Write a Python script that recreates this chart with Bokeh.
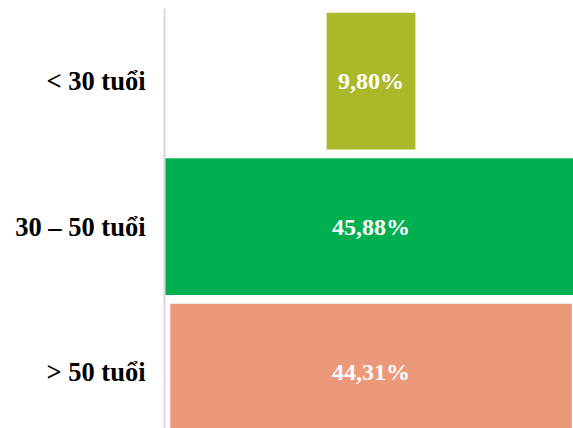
from bokeh.plotting import figure
from bokeh.models import Range1d, FixedTicker, ColumnDataSource
from bokeh.core.properties import value
from bokeh.embed import file_html
from bokeh.resources import INLINE

categories = ["< 30 tuổi", "30 – 50 tuổi", "> 50 tuổi"]
values = [9.80, 45.88, 44.31]
value_labels = ["9,80%", "45,88%", "44,31%"]
colors = ["#A9B92A", "#00AF50", "#EC987B"]

positions = list(range(len(categories)))
src = ColumnDataSource(dict(
    y=positions,
    left=[-v / 2 for v in values],
    right=[v / 2 for v in values],
    color=colors,
    label=value_labels,
    x=[0] * len(values),
))

p = figure(width=573, height=428, output_backend="svg", toolbar_location=None,
           x_range=Range1d(-22.79, 22.35), y_range=Range1d(2.387, -0.5),
           x_axis_location=None,
           min_border_left=164, min_border_right=0, min_border_top=8, min_border_bottom=0)
p.outline_line_color = None
p.xgrid.visible = False
p.ygrid.visible = False
p.background_fill_color = "white"
p.border_fill_color = "white"

p.hbar(y="y", left="left", right="right", height=0.94, fill_color="color",
       line_color=None, source=src)
p.text(x="x", y="y", text="label", source=src, text_align="center",
       text_baseline="middle", text_color="white",
       text_font=value("Liberation Serif"), text_font_style="bold",
       text_font_size="24px")

ax = p.yaxis[0]
ax.ticker = FixedTicker(ticks=positions)
ax.major_label_overrides = {i: c for i, c in enumerate(categories)}
ax.major_tick_line_color = None
ax.minor_tick_line_color = None
ax.axis_line_color = "#d9d9d9"
ax.axis_line_width = 2
ax.major_label_text_font = "Liberation Serif"
ax.major_label_text_font_style = "bold"
ax.major_label_text_font_size = "26.5px"
ax.major_label_text_color = "black"
ax.major_label_standoff = 13

open("out.html", "w").write(file_html(p, INLINE))
